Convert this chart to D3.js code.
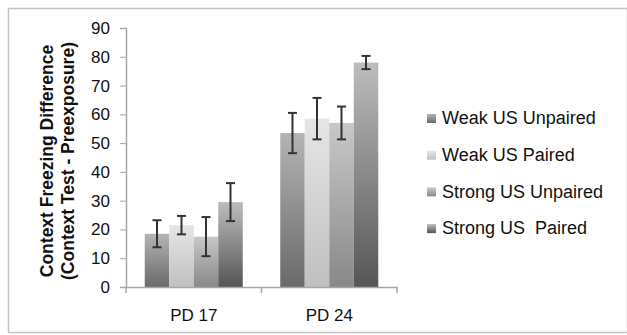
<!DOCTYPE html>
<html lang="en">
<head>
  <meta charset="UTF-8">
  <title>Context Freezing Difference</title>
  <style>
    body { margin: 0; background: #fff; }
    svg { display: block; font-family: "Liberation Sans", "DejaVu Sans", sans-serif; }
    .axis path, .axis line { stroke: #a6a6a6; }
    .axis text { fill: #111; font-size: 17px; }
  </style>
</head>
<body>
  <div id="chart"></div>

  <script src="https://d3js.org/d3.v7.min.js"></script>
  <script>
    // Data
    const categories = ["PD 17", "PD 24"];
    const series = ["Weak US Unpaired", "Weak US Paired", "Strong US Unpaired", "Strong US  Paired"];
    const means = [
      [18.5, 21.5, 17.5, 29.5],   // PD 17
      [53.5, 58.5, 57.0, 78.0]    // PD 24
    ];
    const errors = [
      [4.7, 3.2, 6.8, 6.6],
      [7.0, 7.2, 5.7, 2.3]
    ];
    const yTicks = [0, 10, 20, 30, 40, 50, 60, 70, 80, 90];

    // gradient stops (top, bottom) per series
    const shades = [["#b4b4b4", "#6a6a6a"], ["#e6e6e6", "#c0c0c0"], ["#c8c8c8", "#888888"], ["#bdbdbd", "#555555"]];

    const width = 627, height = 335;
    const plot = { left: 126, right: 397, top: 28, bottom: 287 };

    const svg = d3.select("#chart").append("svg")
      .attr("width", width)
      .attr("height", height);

    // outer frame
    svg.append("rect")
      .attr("x", 8.5).attr("y", 8.5)
      .attr("width", 619).attr("height", 324)
      .attr("fill", "none").attr("stroke", "#c4c4c4").attr("stroke-width", 1.5);

    const defs = svg.append("defs");
    shades.forEach((s, i) => {
      const g = defs.append("linearGradient")
        .attr("id", "grad" + i)
        .attr("x1", 0).attr("y1", 0).attr("x2", 0).attr("y2", 1);
      g.append("stop").attr("offset", "0%").attr("stop-color", s[0]);
      g.append("stop").attr("offset", "100%").attr("stop-color", s[1]);
    });

    // Scales
    const x0 = d3.scaleBand().domain(categories).range([plot.left, plot.right]).padding(0);
    const x1 = d3.scaleBand().domain(series).range([0, x0.bandwidth()]).paddingInner(0).paddingOuter(0.765);
    const y = d3.scaleLinear().domain([0, 90]).range([plot.bottom, plot.top]);

    // Bars
    const groups = svg.selectAll(".grp")
      .data(categories)
      .enter().append("g")
      .attr("class", "grp")
      .attr("transform", d => `translate(${x0(d)},0)`);

    groups.selectAll("rect")
      .data((d, ci) => series.map((s, si) => ({ s, si, v: means[ci][si], e: errors[ci][si] })))
      .enter().append("rect")
      .attr("x", d => x1(d.s))
      .attr("y", d => y(d.v))
      .attr("width", x1.bandwidth())
      .attr("height", d => y(0) - y(d.v))
      .attr("fill", d => `url(#grad${d.si})`);

    // Error bars
    const eb = groups.selectAll(".err")
      .data((d, ci) => series.map((s, si) => ({ s, v: means[ci][si], e: errors[ci][si] })))
      .enter().append("g")
      .attr("class", "err")
      .attr("stroke", "#333")
      .attr("stroke-width", 2);

    eb.append("line")
      .attr("x1", d => x1(d.s) + x1.bandwidth() / 2)
      .attr("x2", d => x1(d.s) + x1.bandwidth() / 2)
      .attr("y1", d => y(d.v + d.e))
      .attr("y2", d => y(d.v - d.e));
    [1, -1].forEach(sign => {
      eb.append("line")
        .attr("x1", d => x1(d.s) + x1.bandwidth() / 2 - 4.5)
        .attr("x2", d => x1(d.s) + x1.bandwidth() / 2 + 4.5)
        .attr("y1", d => y(d.v + sign * d.e))
        .attr("y2", d => y(d.v + sign * d.e));
    });

    // Y axis
    svg.append("g")
      .attr("class", "axis")
      .attr("transform", `translate(${plot.left},0)`)
      .call(d3.axisLeft(y).tickValues(yTicks).tickSize(6).tickSizeOuter(6).tickPadding(10))
      .call(g => g.select(".domain").attr("stroke-width", 1.5));

    // X axis
    svg.append("g")
      .attr("class", "axis")
      .attr("transform", `translate(0,${plot.bottom})`)
      .call(d3.axisBottom(x0).tickSize(0).tickSizeOuter(0).tickPadding(22))
      .call(g => g.select(".domain").attr("stroke-width", 1.5));

    // x tick marks between categories
    svg.append("g")
      .selectAll("line")
      .data(x0.domain().map(c => x0(c)).concat([plot.right]))
      .enter().append("line")
      .attr("x1", d => d).attr("x2", d => d)
      .attr("y1", plot.bottom).attr("y2", plot.bottom + 6)
      .attr("stroke", "#a6a6a6").attr("stroke-width", 1.5);

    // Y title
    const yt = svg.append("text")
      .attr("transform", "translate(47,161) rotate(-90)")
      .attr("text-anchor", "middle")
      .attr("font-weight", "bold")
      .attr("font-size", 17.5)
      .attr("fill", "#111");
    yt.append("tspan").attr("x", 0).attr("dy", "0.35em").text("Context Freezing Difference");
    yt.append("tspan").attr("x", 0).attr("dy", "1.2em").text("(Context Test - Preexposure)");

    // Legend
    const legend = svg.append("g").attr("transform", "translate(427,118)");
    const item = legend.selectAll("g")
      .data(series)
      .enter().append("g")
      .attr("transform", (d, i) => `translate(0,${i * 36.7})`);
    item.append("rect")
      .attr("x", 0).attr("y", -4)
      .attr("width", 9).attr("height", 9)
      .attr("fill", (d, i) => `url(#grad${i})`);
    item.append("text")
      .attr("x", 15).attr("dy", "0.35em")
      .attr("font-size", 18)
      .attr("fill", "#111")
      .attr("xml:space", "preserve")
      .style("white-space", "pre")
      .text(d => d);
  </script>
</body>
</html>
